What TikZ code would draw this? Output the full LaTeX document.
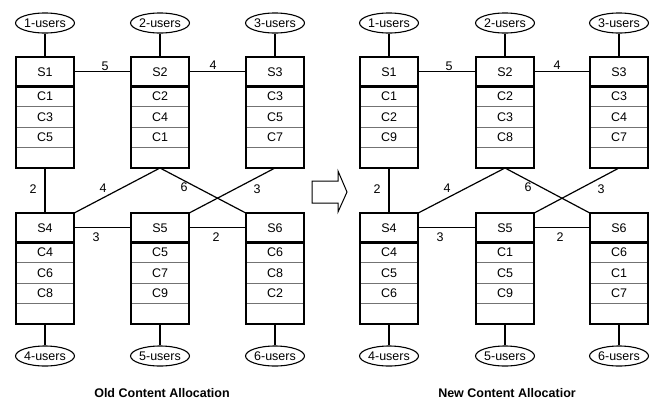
\documentclass[tikz,border=0pt]{standalone}
\usepackage{fontspec}
\setmainfont{Liberation Sans}
\usetikzlibrary{shapes.geometric}
\tikzset{
  cellfont/.style={font=\fontsize{12.5}{12.5}\selectfont},
  hdr/.style={cellfont, minimum width=58pt, minimum height=29pt, inner sep=0pt},
  rowcell/.style={cellfont, minimum width=58pt, minimum height=20pt, inner sep=0pt},
  users/.style={ellipse, draw, line width=1.1pt, minimum width=57pt, minimum height=20pt, inner sep=0pt, cellfont},
  link/.style={line width=1.2pt},
  boxline/.style={line width=2.2pt},
  rowsep/.style={line width=0.8pt, black!55},
  wt/.style={cellfont, inner sep=0pt},
  caption/.style={font=\fontsize{12.5}{12.5}\selectfont\bfseries, inner sep=0pt}
}
\newcommand\srv[7]{%
  \node[hdr, anchor=north] (#1) at (#2,#3) {#4};
  \node[rowcell, anchor=north] (#1a) at (#1.south) {#5};
  \node[rowcell, anchor=north] (#1b) at (#1a.south) {#6};
  \node[rowcell, anchor=north] (#1c) at (#1b.south) {#7};
  \node[rowcell, anchor=north] (#1d) at (#1c.south) {};
  \draw[rowsep] (#1a.south west) -- (#1a.south east);
  \draw[rowsep] (#1b.south west) -- (#1b.south east);
  \draw[rowsep] (#1c.south west) -- (#1c.south east);
  \draw[boxline] (#1.south west) -- (#1.south east);
  \draw[boxline] (#1.north west) rectangle (#1d.south east);
}
\begin{document}
\begin{tikzpicture}[x=1pt,y=-1pt]
\useasboundingbox (0,0) rectangle (658,402);
% ---------- Old allocation ----------
\srv{La}{45}{57}{S1}{C1}{C3}{C5}
\srv{Lb}{160}{57}{S2}{C2}{C4}{C1}
\srv{Lc}{275}{57}{S3}{C3}{C5}{C7}
\srv{Ld}{45}{213}{S4}{C4}{C6}{C8}
\srv{Le}{160}{213}{S5}{C5}{C7}{C9}
\srv{Lf}{275}{213}{S6}{C6}{C8}{C2}
\node[users] (Lu1) at (45,23) {1-users};
\node[users] (Lu2) at (160,23) {2-users};
\node[users] (Lu3) at (275,23) {3-users};
\node[users] (Lu4) at (45,356) {4-users};
\node[users] (Lu5) at (160,356) {5-users};
\node[users] (Lu6) at (275,356) {6-users};
\draw[link] (Lu1) -- (La);
\draw[link] (Lu2) -- (Lb);
\draw[link] (Lu3) -- (Lc);
\draw[link] (Lu4) -- (Ldd);
\draw[link] (Lu5) -- (Led);
\draw[link] (Lu6) -- (Lfd);
\draw[link] (La.east) -- (Lb.west);
\draw[link] (Lb.east) -- (Lc.west);
\draw[link] (Ld.east) -- (Le.west);
\draw[link] (Le.east) -- (Lf.west);
\draw[link] (Lad.south) -- (Ld.north);
\draw[link] (Lbd.south) -- (Ld.north east);
\draw[link] (Lbd.south) -- (Lf.north west);
\draw[link] (Lcd.south) -- (Le.north east);
\node[wt] at (105,66) {5};
\node[wt] at (213,65) {4};
\node[wt] at (33,189) {2};
\node[wt] at (103,188) {4};
\node[wt] at (184,187) {6};
\node[wt] at (257,189) {3};
\node[wt] at (96,237) {3};
\node[wt] at (216,237) {2};
\node[caption] (Lcap) at (162,393) {Old Content Allocation};
% ---------- arrow ----------
\draw[line width=1pt, fill=white] (312,181) -- (338,181) -- (338,171) -- (347,192) -- (338,212) -- (338,203) -- (312,203) -- cycle;
% ---------- New allocation ----------
\srv{Ra}{389}{57}{S1}{C1}{C2}{C9}
\srv{Rb}{505}{57}{S2}{C2}{C3}{C8}
\srv{Rc}{619}{57}{S3}{C3}{C4}{C7}
\srv{Rd}{389}{213}{S4}{C4}{C5}{C6}
\srv{Re}{505}{213}{S5}{C1}{C5}{C9}
\srv{Rf}{619}{213}{S6}{C6}{C1}{C7}
\node[users] (Ru1) at (389,23) {1-users};
\node[users] (Ru2) at (505,23) {2-users};
\node[users] (Ru3) at (619,23) {3-users};
\node[users] (Ru4) at (389,356) {4-users};
\node[users] (Ru5) at (505,356) {5-users};
\node[users] (Ru6) at (619,356) {6-users};
\draw[link] (Ru1) -- (Ra);
\draw[link] (Ru2) -- (Rb);
\draw[link] (Ru3) -- (Rc);
\draw[link] (Ru4) -- (Rdd);
\draw[link] (Ru5) -- (Red);
\draw[link] (Ru6) -- (Rfd);
\draw[link] (Ra.east) -- (Rb.west);
\draw[link] (Rb.east) -- (Rc.west);
\draw[link] (Rd.east) -- (Re.west);
\draw[link] (Re.east) -- (Rf.west);
\draw[link] (Rad.south) -- (Rd.north);
\draw[link] (Rbd.south) -- (Rd.north east);
\draw[link] (Rbd.south) -- (Rf.north west);
\draw[link] (Rcd.south) -- (Re.north east);
\node[wt] at (449,66) {5};
\node[wt] at (557,65) {4};
\node[wt] at (377,189) {2};
\node[wt] at (447,188) {4};
\node[wt] at (528,187) {6};
\node[wt] at (601,189) {3};
\node[wt] at (440,237) {3};
\node[wt] at (560,237) {2};
\node[caption] (Rcap) at (507,393) {New Content Allocatior};
\end{tikzpicture}
\end{document}
